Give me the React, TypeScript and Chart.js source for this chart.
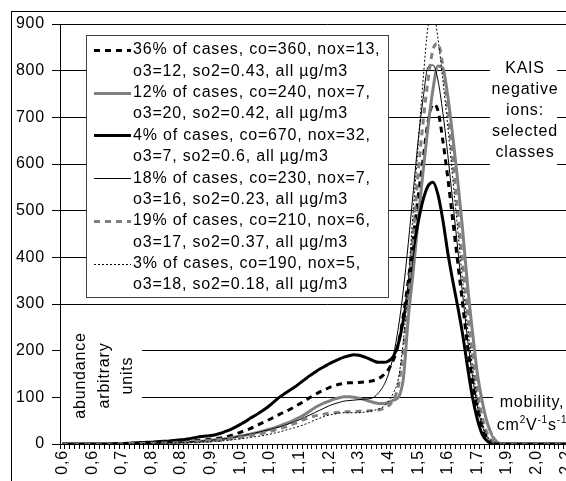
import React, { useEffect, useRef } from 'react';
import { Chart, registerables } from 'chart.js';

Chart.register(...registerables);

const FONT = '"Liberation Sans", Arial, Helvetica, sans-serif';
const LS = '0.8px';
const FS = 16;

// mobility tick labels (one every 6 categories)
const xTickLabels = ['0,6', '0,6', '0,7', '0,8', '0,8', '0,9', '1,0', '1,0', '1,1', '1,2', '1,3', '1,4', '1,5', '1,6', '1,7', '1,9', '2,0', '2,2'];
const catsPerLabel = 6;
const categories: string[] = [];
xTickLabels.forEach((l) => {
  categories.push(l);
  for (let k = 1; k < catsPerLabel; k++) categories.push('');
});

const yTicks = { min: 0, max: 900, step: 100 };

// series values (abundance, arbitrary units), one per category
const cases36 = [
  0, 0, 0, 0, 0, 0, 0, 0, 0, 0,
  0.3, 0.5, 0.8, 1, 1.3, 1.6, 2, 2.2, 2.5, 2.8,
  3, 3.5, 4, 4.5, 5, 5.7, 6.5, 7.2, 8, 9,
  10, 11, 13, 15, 18, 21, 25, 29, 33, 38,
  43, 48, 53, 58, 64, 69, 74, 80, 86, 92,
  99, 105, 111, 116, 121, 125, 128, 130, 131, 131,
  132, 133, 134, 136, 140, 148, 160, 180, 215, 275,
  350, 440, 530, 610, 690, 728, 715, 650, 570, 480,
  390, 300, 210, 135, 75, 35, 12, 3, 0, 0,
  0, 0, 0, 0, 0, 0, 0, 0, 0, 0, 0, 0, 0, 0, 0, 0, 0, 0,
];
const cases12 = [
  0, 0, 0, 0, 0, 0, 0, 0, 0, 0,
  0.3, 0.5, 0.7, 0.8, 1, 1.2, 1.5, 1.7, 2, 2.2,
  2.5, 2.7, 3, 3.5, 4, 4.5, 5, 5.5, 6, 7,
  8, 9, 10, 11.5, 13, 15, 17, 19, 21, 23.5,
  26, 29, 32, 35, 39, 43, 47, 52, 57, 63,
  70, 77, 83, 88, 92, 96, 99, 101, 101, 100,
  98, 95, 92, 89, 87, 87, 89, 94, 100, 140,
  270, 370, 480, 585, 680, 760, 810, 805, 745, 660,
  565, 460, 340, 240, 150, 90, 45, 18, 4, 0,
  0, 0, 0, 0, 0, 0, 0, 0, 0, 0, 0, 0, 0, 0, 0, 0, 0, 0,
];
const cases4 = [
  0, 0, 0, 0, 0, 0, 0, 0, 0, 0,
  0.5, 1, 1, 1.5, 2, 2.5, 3, 3.5, 4, 5,
  5.5, 6, 7, 8, 9, 10, 12, 14, 16, 17,
  18, 20, 23, 27, 31, 36, 42, 48, 55, 61,
  68, 75, 83, 92, 101, 108, 115, 122, 130, 138,
  146, 153, 160, 166, 172, 177, 182, 186, 189, 191,
  190, 187, 183, 178, 175, 175, 178, 188, 215, 265,
  330, 415, 475, 523, 553, 561, 535, 480, 410, 350,
  295, 235, 165, 100, 52, 20, 6, 1, 0, 0,
  0, 0, 0, 0, 0, 0, 0, 0, 0, 0, 0, 0, 0, 0, 0, 0, 0, 0,
];
const cases18 = [
  0, 0, 0, 0, 0, 0, 0, 0, 0, 0,
  0.3, 0.5, 0.7, 0.8, 1, 1.2, 1.5, 1.7, 2, 2.2,
  2.5, 2.8, 3.2, 3.6, 4, 4.5, 5, 5.5, 6, 7,
  8, 9, 10, 11.5, 13, 15, 17, 19, 21, 23.5,
  26, 28.5, 31, 34, 37, 40, 44, 48, 52, 57,
  62, 67, 72, 77, 82, 86, 89, 92, 93, 94,
  95, 96, 97, 100, 110, 125, 150, 190, 250, 330,
  430, 540, 650, 740, 808, 812, 780, 710, 620, 520,
  420, 320, 225, 145, 80, 38, 14, 4, 0, 0,
  0, 0, 0, 0, 0, 0, 0, 0, 0, 0, 0, 0, 0, 0, 0, 0, 0, 0,
];
const cases19 = [
  0, 0, 0, 0, 0, 0, 0, 0, 0, 0,
  0.2, 0.4, 0.6, 0.7, 0.9, 1, 1.2, 1.4, 1.6, 1.8,
  2, 2.2, 2.5, 2.7, 3, 3.5, 4, 4.5, 5, 5.5,
  6, 7, 8, 9.5, 11, 12.5, 14, 16, 18, 20,
  22, 24.5, 27, 30, 33, 36, 40, 44, 49, 53,
  57, 60, 62, 64, 66, 67, 68, 69, 69, 69,
  70, 70, 71, 72, 73, 76, 82, 95, 125, 200,
  320, 450, 580, 690, 780, 845, 858, 810, 720, 610,
  500, 390, 285, 190, 112, 56, 22, 7, 1, 0,
  0, 0, 0, 0, 0, 0, 0, 0, 0, 0, 0, 0, 0, 0, 0, 0, 0, 0,
];
const cases3 = [
  0, 0, 0, 0, 0, 0, 0, 0, 0, 0,
  0.2, 0.3, 0.4, 0.5, 0.6, 0.8, 0.9, 1, 1.2, 1.3,
  1.5, 1.7, 2, 2.2, 2.5, 2.8, 3.2, 3.5, 4, 4.5,
  5, 5.7, 6.5, 7.5, 8.5, 9.7, 11, 12.5, 14, 15.5,
  17, 19, 21, 23.5, 26, 29, 32, 35, 38, 42,
  46, 51, 55, 59, 62, 64, 66, 67, 67, 67,
  67, 68, 70, 72, 75, 80, 92, 110, 140, 220,
  350, 500, 640, 780, 895, 925, 870, 780, 680, 570,
  460, 350, 250, 165, 95, 46, 17, 5, 1, 0,
  0, 0, 0, 0, 0, 0, 0, 0, 0, 0, 0, 0, 0, 0, 0, 0, 0, 0,
];

const seriesValues = [cases36, cases12, cases4, cases18, cases19, cases3];
const seriesLabels = [
  ['36% of cases, co=360, nox=13,', 'o3=12, so2=0.43, all µg/m3'],
  ['12% of cases, co=240, nox=7,', 'o3=20, so2=0.42, all µg/m3'],
  ['4% of cases, co=670, nox=32,', 'o3=7, so2=0.6, all µg/m3'],
  ['18% of cases, co=230, nox=7,', 'o3=16, so2=0.23, all µg/m3'],
  ['19% of cases, co=210, nox=6,', 'o3=17, so2=0.37, all µg/m3'],
  ['3% of cases, co=190, nox=5,', 'o3=18, so2=0.18, all µg/m3'],
];
const seriesColors = ['#000000', '#808080', '#000000', '#000000', '#808080', '#000000'];
const seriesWidths = [3, 3, 3, 1, 3, 1];
const seriesDashes = [[6, 5], [], [], [], [6, 5], [2, 2]];

const titleLines = ['KAIS', 'negative', 'ions:', 'selected', 'classes'];
const yTitleLines = ['abundance', 'arbitrary', 'units'];
const xTitleLine1 = 'mobility,';
const xTitleParts: [string, boolean][] = [['cm', false], ['2', true], ['V', false], ['-1', true], ['s', false], ['-1', true]];

const CANVAS_W = 620;
const CANVAS_H = 481;
const PLOT_LEFT = 60;
const PLOT_TOP = 24;
const PLOT_BOTTOM = 444;
const CAT_W = 4.94;

const decor = {
  id: 'decor',
  beforeUpdate(chart: any) {
    chart.ctx.letterSpacing = LS;
  },
  beforeDraw(chart: any) {
    const ctx = chart.ctx;
    ctx.save();
    ctx.fillStyle = '#fff';
    ctx.fillRect(0, 0, chart.width, chart.height);
    ctx.restore();
    ctx.letterSpacing = LS;
  },
  afterDraw(chart: any) {
    const ctx = chart.ctx as CanvasRenderingContext2D;
    ctx.save();
    (ctx as any).letterSpacing = LS;
    // outer frame
    ctx.strokeStyle = '#000';
    ctx.lineWidth = 1;
    ctx.strokeRect(11.5, 11.5, 2000, 2000);

    // white backgrounds of text boxes
    ctx.fillStyle = '#fff';
    ctx.fillRect(61, 322, 81, 112);
    ctx.fillRect(490, 56, 67, 112);
    ctx.fillRect(493, 388, 200, 48);

    // legend
    const lx = 86, ly = 35, lw = 302, lh = 262;
    ctx.fillRect(lx, ly, lw, lh);
    ctx.strokeStyle = '#404040';
    ctx.strokeRect(lx + 0.5, ly + 0.5, lw, lh);
    ctx.font = `${FS}px ${FONT}`;
    ctx.textBaseline = 'middle';
    ctx.textAlign = 'left';
    const lineH = 21.36;
    chart.data.datasets.forEach((ds: any, i: number) => {
      const y1 = 50 + i * 2 * lineH;
      const yl = Math.round(y1) + (ds.borderWidth % 2 ? 0.5 : 0);
      ctx.save();
      ctx.strokeStyle = ds.borderColor;
      ctx.lineWidth = ds.borderWidth;
      ctx.setLineDash(ds.borderDash || []);
      ctx.beginPath();
      ctx.moveTo(94, yl);
      ctx.lineTo(131, yl);
      ctx.stroke();
      ctx.restore();
      ctx.fillStyle = '#000';
      const lines: string[] = ds.legendLines;
      lines.forEach((t, k) => ctx.fillText(t, 133, y1 + k * lineH));
    });

    // KAIS title
    ctx.textAlign = 'center';
    ctx.fillStyle = '#000';
    titleLines.forEach((t, k) => ctx.fillText(t, 525, 69 + k * 21));

    // y title, rotated
    yTitleLines.forEach((t, k) => {
      ctx.save();
      ctx.translate(81 + k * 23.5, 375.5);
      ctx.rotate(-Math.PI / 2);
      ctx.fillText(t, 0, 0);
      ctx.restore();
    });

    // x title
    ctx.fillText(xTitleLine1, 532, 403);
    const big = `${FS}px ${FONT}`;
    const small = `${Math.round(FS * 0.65)}px ${FONT}`;
    let total = 0;
    xTitleParts.forEach(([t, sup]) => {
      ctx.font = sup ? small : big;
      total += ctx.measureText(t).width;
    });
    let x = 532 - total / 2;
    ctx.textAlign = 'left';
    xTitleParts.forEach(([t, sup]) => {
      ctx.font = sup ? small : big;
      ctx.fillText(t, x, sup ? 420 : 426);
      x += ctx.measureText(t).width;
    });
    ctx.restore();
  },
};

export default function App() {
  const ref = useRef<HTMLCanvasElement | null>(null);
  useEffect(() => {
    if (!ref.current) return;
    const plotRight = PLOT_LEFT + categories.length * CAT_W;
    const chart = new Chart(ref.current, {
      type: 'line',
      data: {
        labels: categories,
        datasets: seriesValues.map((data, i) => ({
          label: seriesLabels[i].join(' '),
          legendLines: seriesLabels[i],
          data,
          borderColor: seriesColors[i],
          backgroundColor: seriesColors[i],
          borderWidth: seriesWidths[i],
          borderDash: seriesDashes[i],
          pointRadius: 0,
          pointHoverRadius: 0,
          fill: false,
          cubicInterpolationMode: 'monotone',
          order: -i,
        })) as any,
      },
      options: {
        responsive: false,
        animation: false,
        devicePixelRatio: 1,
        layout: { padding: { left: 0, top: PLOT_TOP, right: CANVAS_W - plotRight, bottom: 0 } },
        plugins: { legend: { display: false }, tooltip: { enabled: false } },
        scales: {
          x: {
            type: 'category',
            offset: true,
            grid: { offset: true, drawOnChartArea: false, drawTicks: true, tickLength: 5, color: '#000' },
            border: { display: true, color: '#000', width: 1 },
            ticks: {
              autoSkip: false,
              maxRotation: 90,
              minRotation: 90,
              padding: 1,
              color: '#000',
              font: { family: FONT, size: FS },
            },
            afterFit: (s: any) => { s.height = CANVAS_H - PLOT_BOTTOM; },
          },
          y: {
            min: yTicks.min,
            max: yTicks.max,
            ticks: { stepSize: yTicks.step, padding: 7, color: '#000', font: { family: FONT, size: FS } },
            grid: { color: '#000', lineWidth: 1, tickLength: 8, drawTicks: true },
            border: { display: true, color: '#000', width: 1 },
            afterFit: (s: any) => { s.width = PLOT_LEFT; },
          },
        },
      } as any,
      plugins: [decor],
    });
    return () => chart.destroy();
  }, []);
  return (
    <div style={{ position: 'fixed', left: 0, top: 0, width: 566, height: 481, overflow: 'hidden', background: '#fff' }}>
      <canvas ref={ref} width={CANVAS_W} height={CANVAS_H} style={{ display: 'block' }} />
    </div>
  );
}
